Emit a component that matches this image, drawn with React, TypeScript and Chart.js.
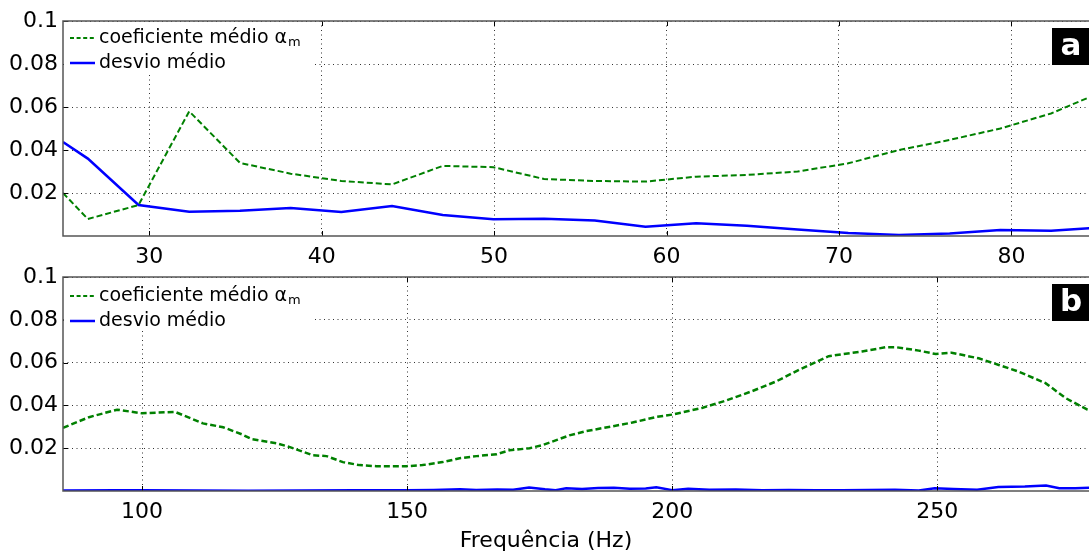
import React, { useEffect, useRef } from "react";
import { Chart, registerables } from "chart.js";
Chart.register(...registerables);

const FONT = "'DejaVu Sans', sans-serif";
const GREEN = "#008000";
const BLUE = "#0000ff";

// Panel a
const freqA = [25, 26.44, 29.38, 32.32, 35.26, 38.2, 41.14, 44.08, 47.02, 49.96, 52.9, 55.84, 58.78, 61.72, 64.66, 67.6, 70.54, 73.48, 76.42, 79.36, 82.3, 85.24];
const alphaA = [0.020, 0.0079, 0.0144, 0.058, 0.034, 0.029, 0.0256, 0.024, 0.0326, 0.032, 0.0265, 0.0256, 0.0253, 0.0276, 0.0284, 0.030, 0.0338, 0.040, 0.0447, 0.050, 0.057, 0.067];
const desvioA = [0.0437, 0.036, 0.0144, 0.0113, 0.0117, 0.013, 0.0112, 0.014, 0.0098, 0.0078, 0.008, 0.0072, 0.0043, 0.0059, 0.0048, 0.003, 0.0014, 0.0005, 0.0012, 0.0028, 0.0025, 0.004];
const xTicksA = [30, 40, 50, 60, 70, 80];

// Panel b
const freqB = [85.1, 90, 95.3, 100, 106.2, 111.5, 115.3, 118.8, 120.7, 125.4, 127.9, 132.2, 134.8, 137.9, 141, 144.2, 149.9, 152.9, 156.7, 159.9, 163.1, 166.9, 169.3, 173.1, 175.5, 178.4, 180.6, 183.8, 188.7, 192.5, 197, 200, 205.6, 210.2, 215, 219.6, 223.9, 229.5, 235.8, 240.3, 242.2, 246.5, 249.7, 252.7, 257.8, 261.6, 265.3, 270.4, 274.2, 278.3, 280];
const alphaB = [0.0295, 0.0345, 0.038, 0.0363, 0.037, 0.0316, 0.0298, 0.0265, 0.0242, 0.0223, 0.0205, 0.0167, 0.0163, 0.0135, 0.0121, 0.0116, 0.0116, 0.0121, 0.0135, 0.0153, 0.0163, 0.0172, 0.019, 0.020, 0.0214, 0.024, 0.026, 0.028, 0.0302, 0.032, 0.0346, 0.0357, 0.0388, 0.0423, 0.0466, 0.0512, 0.0566, 0.063, 0.0652, 0.0672, 0.0672, 0.0656, 0.064, 0.0646, 0.062, 0.0589, 0.0558, 0.0504, 0.0434, 0.038, 0.0365];
const freqDesvioB = [85.1, 95, 100, 110, 120, 130, 140, 150, 155, 160, 163, 167, 170, 173, 176, 178, 180, 183, 186, 189, 192, 195, 197, 200, 203, 207, 212, 217, 222, 227, 232, 237, 242, 246.5, 249.5, 253, 257.5, 261.5, 266.5, 270.5, 273, 276, 280];
const desvioB = [0.0002, 0.0004, 0.0003, 0.0002, 0.0001, 0.0002, 0.0003, 0.0004, 0.0005, 0.0008, 0.0005, 0.0007, 0.0006, 0.0016, 0.0008, 0.0004, 0.0013, 0.0009, 0.0014, 0.0015, 0.0011, 0.0012, 0.0018, 0.0004, 0.001, 0.0006, 0.0007, 0.0004, 0.0005, 0.0003, 0.0004, 0.0005, 0.0006, 0.0002, 0.0013, 0.0009, 0.0006, 0.0019, 0.0021, 0.0026, 0.0013, 0.0013, 0.0017];
const xTicksB = [100, 150, 200, 250];

const yTicks = [0.02, 0.04, 0.06, 0.08, 0.1];
const yTickLabels = ["0.02", "0.04", "0.06", "0.08", "0.1"];
const legendAlpha = "coeficiente médio α";
const legendAlphaSub = "m";
const legendDesvio = "desvio médio";
const xTitle = "Frequência (Hz)";

type Panel = {
  freqAlpha: number[]; alpha: number[]; freqDesvio: number[]; desvio: number[];
  xTicks: number[]; xMin: number; xMax: number; label: string;
  axisH: number; legendTop: number; greenW: number;
};

function makeChart(canvas: HTMLCanvasElement, p: Panel) {
  const decor = {
    id: "decor",
    afterDatasetsDraw(chart: any) {
      const { ctx, chartArea } = chart;
      const { left, top, right, bottom } = chartArea;
      const xs = chart.scales.x, ys = chart.scales.y;
      ctx.save();
      // tick marks inward
      ctx.strokeStyle = "#000";
      ctx.lineWidth = 1;
      ctx.setLineDash([]);
      for (const v of p.xTicks) {
        const px = Math.round(xs.getPixelForValue(v)) + 0.5;
        ctx.beginPath(); ctx.moveTo(px, bottom); ctx.lineTo(px, bottom - 5); ctx.stroke();
        ctx.beginPath(); ctx.moveTo(px, top); ctx.lineTo(px, top + 5); ctx.stroke();
      }
      for (const v of yTicks) {
        const py = Math.round(ys.getPixelForValue(v)) + 0.5;
        ctx.beginPath(); ctx.moveTo(left, py); ctx.lineTo(left + 5, py); ctx.stroke();
      }
      // legend
      ctx.fillStyle = "#fff";
      ctx.fillRect(left + 1, top + 1, 248, 52);
      const r1 = top + p.legendTop, r2 = r1 + 25;
      ctx.lineWidth = 2;
      ctx.strokeStyle = GREEN;
      ctx.setLineDash([4, 2.6]);
      ctx.beginPath(); ctx.moveTo(left + 7, r1); ctx.lineTo(left + 32, r1); ctx.stroke();
      ctx.setLineDash([]);
      ctx.lineWidth = 2.5;
      ctx.strokeStyle = BLUE;
      ctx.beginPath(); ctx.moveTo(left + 7, r2); ctx.lineTo(left + 32, r2); ctx.stroke();
      ctx.fillStyle = "#000";
      ctx.textBaseline = "middle";
      ctx.textAlign = "left";
      ctx.font = `19px ${FONT}`;
      ctx.fillText(legendAlpha, left + 36, r1);
      const w = ctx.measureText(legendAlpha).width;
      ctx.font = `13px ${FONT}`;
      ctx.fillText(legendAlphaSub, left + 37 + w, r1 + 5);
      ctx.font = `19px ${FONT}`;
      ctx.fillText(legendDesvio, left + 36, r2);
      // panel label
      ctx.fillStyle = "#000";
      ctx.fillRect(right - 37, top + 7, 40, 37);
      ctx.fillStyle = "#fff";
      ctx.font = `bold 31px ${FONT}`;
      ctx.textAlign = "center";
      ctx.fillText(p.label, right - 18, top + 26);
      // frame
      ctx.strokeStyle = "#555";
      ctx.lineWidth = 1.5;
      ctx.strokeRect(left, top, right - left + 2, bottom - top);
      ctx.restore();
    },
  };

  return new Chart(canvas, {
    type: "line",
    data: {
      datasets: [
        {
          data: p.freqAlpha.map((x, i) => ({ x, y: p.alpha[i] })),
          borderColor: GREEN, borderWidth: p.greenW, borderDash: [6, 3],
          pointRadius: 0, fill: false, tension: 0,
        },
        {
          data: p.freqDesvio.map((x, i) => ({ x, y: p.desvio[i] })),
          borderColor: BLUE, borderWidth: 2.5,
          pointRadius: 0, fill: false, tension: 0,
        },
      ],
    },
    options: {
      animation: false, responsive: false, maintainAspectRatio: false,
      layout: { padding: { top: 21, right: 0, bottom: 0, left: 0 } },
      plugins: { legend: { display: false }, tooltip: { enabled: false } },
      scales: {
        x: {
          type: "linear", min: p.xMin, max: p.xMax,
          afterBuildTicks: (s: any) => { s.ticks = p.xTicks.map((v) => ({ value: v })); },
          afterFit: (s: any) => { s.height = p.axisH; },
          grid: { color: "#333", lineWidth: 1, drawTicks: false, tickLength: 0 },
          border: { display: false, dash: [1, 3.5] },
          ticks: { font: { family: FONT, size: 22 }, color: "#000", padding: 8, maxRotation: 0, autoSkip: false, callback: (v: any) => String(v) },
        },
        y: {
          min: 0, max: 0.1,
          afterBuildTicks: (s: any) => { s.ticks = yTicks.map((v) => ({ value: v })); },
          afterFit: (s: any) => { s.width = 63; },
          grid: { color: "#333", lineWidth: 1, drawTicks: false, tickLength: 0 },
          border: { display: false, dash: [1, 3.5] },
          ticks: {
            font: { family: FONT, size: 22 }, color: "#000", padding: 5, autoSkip: false,
            callback: (v: any) => { const i = yTicks.findIndex((t) => Math.abs(t - v) < 1e-9); return i >= 0 ? yTickLabels[i] : ""; },
          },
        },
      },
    },
    plugins: [decor],
  } as any);
}

export default function App() {
  const refA = useRef<HTMLCanvasElement>(null);
  const refB = useRef<HTMLCanvasElement>(null);
  useEffect(() => {
    const a = makeChart(refA.current!, {
      freqAlpha: freqA, alpha: alphaA, freqDesvio: freqA, desvio: desvioA,
      xTicks: xTicksA, xMin: 25, xMax: 84.5, label: "a", axisH: 34, legendTop: 17, greenW: 2,
    });
    const b = makeChart(refB.current!, {
      freqAlpha: freqB, alpha: alphaB, freqDesvio: freqDesvioB, desvio: desvioB,
      xTicks: xTicksB, xMin: 85.1, xMax: 278.6, label: "b", axisH: 63, legendTop: 19, greenW: 2.5,
    });
    return () => { a.destroy(); b.destroy(); };
  }, []);
  return (
    <div style={{ position: "fixed", left: 0, top: 0, width: 1089, height: 554, overflow: "hidden", background: "#fff" }}>
      <canvas ref={refA} width={1089} height={270} style={{ position: "absolute", left: 0, top: 0, width: 1089, height: 270 }} />
      <canvas ref={refB} width={1089} height={298} style={{ position: "absolute", left: 0, top: 256, width: 1089, height: 298 }} />
      <div style={{ position: "absolute", left: 0, width: 1092, top: 527, textAlign: "center", fontFamily: FONT, fontSize: 22, lineHeight: "26px", color: "#000", paddingRight: 0 }}>
        <span style={{ position: "absolute", left: 546, transform: "translateX(-50%)", whiteSpace: "nowrap" }}>{xTitle}</span>
      </div>
    </div>
  );
}
